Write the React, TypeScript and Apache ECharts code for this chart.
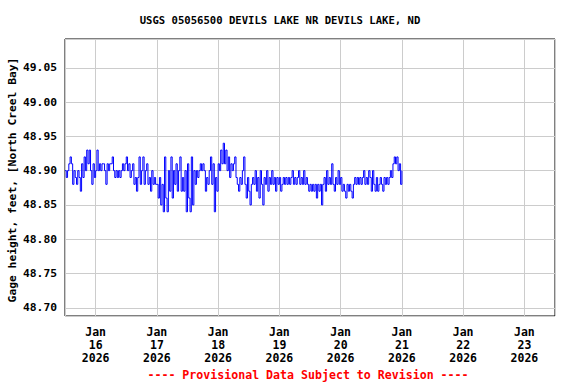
import React, { useEffect, useRef } from "react";
import * as echarts from "echarts";

const titleText = "USGS 05056500 DEVILS LAKE NR DEVILS LAKE, ND";
const yAxisTitle = "Gage height, feet, [North Creel Bay]";
const footerText = "---- Provisional Data Subject to Revision ----";

// x in days of January 2026; data every 30 minutes starting Jan 15 12:00
const startDay = 15.5;
const stepDays = 1 / 48;

const jan15pm = [48.90, 48.89, 48.90, 48.91, 48.92, 48.91, 48.88, 48.90, 48.89, 48.88, 48.90, 48.89,
  48.87, 48.91, 48.89, 48.92, 48.90, 48.93, 48.91, 48.93, 48.90, 48.88, 48.91, 48.89];
const jan16 = [48.90, 48.93, 48.90, 48.91, 48.90, 48.91, 48.91, 48.90, 48.88, 48.91, 48.90, 48.91,
  48.91, 48.92, 48.90, 48.89, 48.90, 48.89, 48.90, 48.89, 48.90, 48.91, 48.90, 48.91,
  48.92, 48.90, 48.91, 48.89, 48.90, 48.91, 48.88, 48.89, 48.87, 48.89, 48.92, 48.88,
  48.90, 48.92, 48.88, 48.90, 48.91, 48.88, 48.89, 48.87, 48.90, 48.88, 48.89, 48.88];
const jan17 = [48.88, 48.86, 48.89, 48.85, 48.88, 48.84, 48.92, 48.86, 48.84, 48.90, 48.87, 48.92,
  48.86, 48.90, 48.88, 48.91, 48.87, 48.90, 48.92, 48.87, 48.89, 48.87, 48.90, 48.84,
  48.91, 48.86, 48.84, 48.92, 48.85, 48.90, 48.88, 48.90, 48.89, 48.90, 48.91, 48.90,
  48.91, 48.90, 48.87, 48.89, 48.88, 48.90, 48.92, 48.88, 48.91, 48.84, 48.89, 48.87];
const jan18 = [48.91, 48.90, 48.93, 48.91, 48.94, 48.91, 48.93, 48.90, 48.92, 48.89, 48.91, 48.90,
  48.91, 48.92, 48.89, 48.88, 48.87, 48.89, 48.88, 48.90, 48.92, 48.88, 48.86, 48.89,
  48.87, 48.85, 48.88, 48.89, 48.88, 48.90, 48.87, 48.89, 48.86, 48.90, 48.88, 48.85,
  48.89, 48.88, 48.90, 48.87, 48.89, 48.88, 48.90, 48.88, 48.89, 48.87, 48.89, 48.88];
const jan19 = [48.89, 48.87, 48.88, 48.89, 48.88, 48.89, 48.88, 48.89, 48.88, 48.89, 48.90, 48.88,
  48.89, 48.88, 48.89, 48.90, 48.88, 48.89, 48.88, 48.90, 48.88, 48.89, 48.88, 48.87,
  48.88, 48.87, 48.88, 48.87, 48.88, 48.86, 48.88, 48.87, 48.88, 48.85, 48.88, 48.89,
  48.87, 48.90, 48.88, 48.89, 48.88, 48.91, 48.88, 48.87, 48.89, 48.88, 48.90, 48.88];
const jan20 = [48.89, 48.87, 48.88, 48.87, 48.86, 48.88, 48.87, 48.88, 48.87, 48.86, 48.88, 48.89,
  48.88, 48.89, 48.88, 48.89, 48.88, 48.89, 48.90, 48.88, 48.89, 48.88, 48.90, 48.89,
  48.87, 48.90, 48.88, 48.87, 48.89, 48.87, 48.88, 48.89, 48.88, 48.87, 48.89, 48.88,
  48.89, 48.88, 48.89, 48.90, 48.89, 48.91, 48.92, 48.91, 48.92, 48.90, 48.91, 48.88];
const jan21 = [48.90];

const tickDays = [16, 17, 18, 19, 20, 21, 22, 23];
const tickMonth = "Jan";
const tickYear = "2026";
const yTicks = [48.70, 48.75, 48.80, 48.85, 48.90, 48.95, 49.00, 49.05];

const xMin = 15.5;
const xMax = 23.5;
const yMin = 48.688;
const yMax = 49.092;

const FONT = "'DejaVu Sans Mono', monospace";

export default function App() {
  const ref = useRef<HTMLDivElement>(null);
  useEffect(() => {
    if (!ref.current) return;
    const chart = echarts.init(ref.current, null, { renderer: "svg" });
    const values = [...jan15pm, ...jan16, ...jan17, ...jan18, ...jan19, ...jan20, ...jan21];
    const data = values.map((v, i) => [startDay + i * stepDays, v]);
    chart.setOption({
      animation: false,
      backgroundColor: "#fff",
      grid: {
        left: 65,
        right: 21,
        top: 39,
        bottom: 68,
        show: true,
        borderColor: "#000",
        borderWidth: 1,
        backgroundColor: "transparent",
        containLabel: false,
        outerBoundsMode: "none",
      },
      xAxis: {
        type: "value",
        min: xMin,
        max: xMax,
        minInterval: 1,
        maxInterval: 1,
        splitNumber: 8,
        axisLine: { show: false },
        axisTick: { show: false },
        splitLine: { show: true, lineStyle: { color: "#cccccc", width: 1 } },
        axisLabel: {
          showMinLabel: false,
          showMaxLabel: false,
          margin: 9,
          fontFamily: FONT,
          fontWeight: "bold",
          fontSize: 11.5,
          lineHeight: 13,
          color: "#000",
          formatter: (v: number) => {
            const d = Math.round(v);
            if (Math.abs(v - d) > 1e-6 || tickDays.indexOf(d) < 0) return "";
            return `${tickMonth}\n${d}\n${tickYear}`;
          },
        },
      },
      yAxis: {
        type: "value",
        min: yMin,
        max: yMax,
        minInterval: 0.05,
        maxInterval: 0.05,
        splitNumber: 8,
        axisLine: { show: false },
        axisTick: { show: false },
        splitLine: { show: true, lineStyle: { color: "#cccccc", width: 1 } },
        axisLabel: {
          showMinLabel: false,
          showMaxLabel: false,
          margin: 8,
          fontFamily: FONT,
          fontWeight: "bold",
          fontSize: 11.3,
          color: "#000",
          formatter: (v: number) => {
            const hit = yTicks.find((t) => Math.abs(t - v) < 1e-6);
            return hit === undefined ? "" : hit.toFixed(2);
          },
        },
      },
      graphic: [
        {
          type: "text",
          x: 280,
          y: 20,
          style: {
            text: titleText,
            fontFamily: FONT,
            fontWeight: "bold",
            fontSize: 10.6,
            fill: "#000",
            align: "center",
            verticalAlign: "middle",
          },
        },
        {
          type: "text",
          x: 12,
          y: 180,
          rotation: Math.PI / 2,
          style: {
            text: yAxisTitle,
            fontFamily: FONT,
            fontWeight: "bold",
            fontSize: 11.3,
            fill: "#000",
            align: "center",
            verticalAlign: "middle",
          },
        },
        {
          type: "text",
          x: 308,
          y: 375,
          style: {
            text: footerText,
            fontFamily: FONT,
            fontWeight: "bold",
            fontSize: 11.6,
            fill: "#ff0000",
            align: "center",
            verticalAlign: "middle",
          },
        },
      ],
      series: [
        {
          type: "line",
          data,
          step: "end",
          showSymbol: false,
          symbol: "none",
          lineStyle: { color: "#0000ff", width: 1 },
          z: 3,
        },
      ],
    });
    return () => chart.dispose();
  }, []);
  return (
    <div
      ref={ref}
      style={{ position: "absolute", left: 0, top: 0, width: 576, height: 384, background: "#fff" }}
    />
  );
}
